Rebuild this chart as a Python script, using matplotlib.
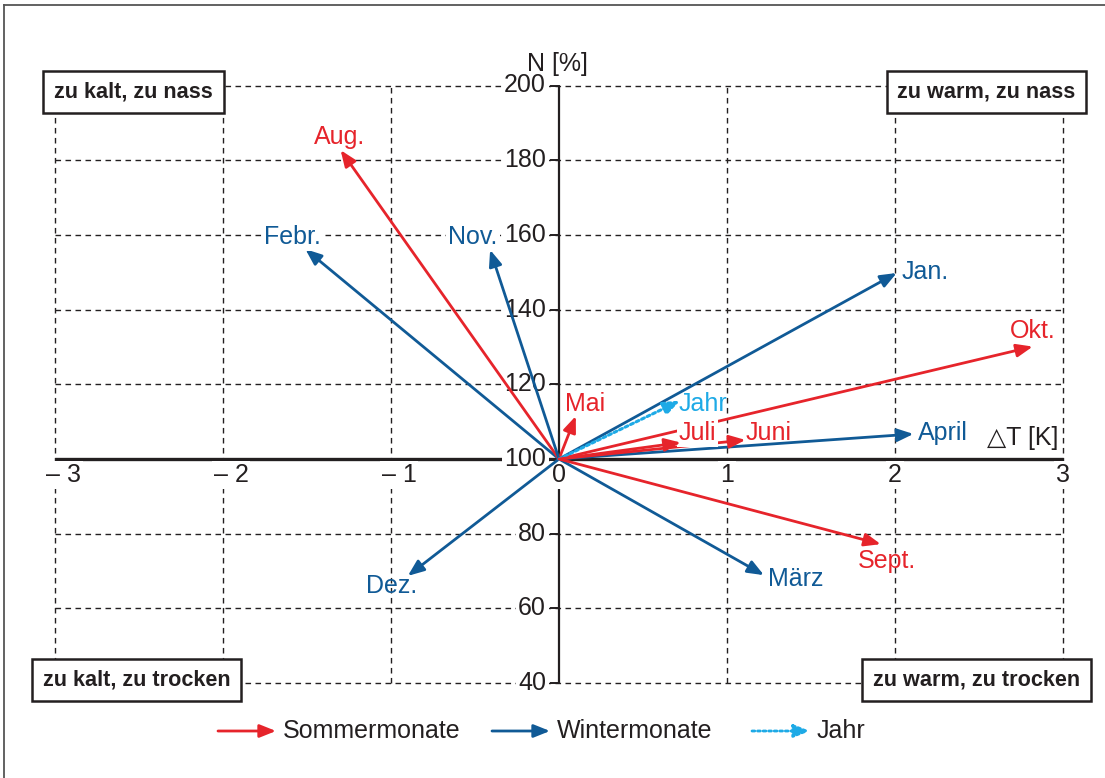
import matplotlib
matplotlib.use('Agg')
import matplotlib.pyplot as plt
from matplotlib.patches import FancyArrowPatch
from matplotlib.lines import Line2D

# Monatliche Abweichungen: Temperatur (K) und Niederschlag (% vom Mittel)
months = ["Jan.", "Febr.", "März", "April", "Mai", "Juni",
          "Juli", "Aug.", "Sept.", "Okt.", "Nov.", "Dez."]
delta_t = [2.01, -1.51, 1.22, 2.11, 0.10, 1.11, 0.725, -1.30, 1.915, 2.82, -0.41, -0.90]
niederschlag = [149.8, 156.2, 68.9, 106.7, 111.5, 105.1, 104.4, 182.7, 77.2, 130.1, 156.0, 68.7]
saison = ["winter", "winter", "winter", "winter", "sommer", "sommer",
          "sommer", "sommer", "sommer", "sommer", "winter", "winter"]
jahr_dt = 0.72
jahr_n = 115.6

x_ticks = [-3, -2, -1, 0, 1, 2, 3]
x_tick_labels = ["\u2013 3", "\u2013 2", "\u2013 1", "0", "1", "2", "3"]
y_ticks = [40, 60, 80, 100, 120, 140, 160, 180, 200]

RED = "#E6242B"
BLUE = "#105A96"
LIGHT = "#1EAAE6"
INK = "#231F20"
FONT = ["Liberation Sans", "DejaVu Sans"]
NARROW = ["Liberation Sans Narrow", "Liberation Sans"]
FS = 18

# label offsets in pixels (dx, dy, ha)
label_pos = {
    "Jan.": (5, 1, "left"), "Febr.": (-13, 12, "center"), "März": (4, -4, "left"),
    "April": (4, 1, "left"), "Mai": (-11, 12, "left"), "Juni": (0, 7, "left"),
    "Juli": (-2, 10, "left"), "Aug.": (-1, 13, "center"), "Sept.": (6, -17, "center"),
    "Okt.": (0, 16, "center"), "Nov.": (-17, 13, "center"), "Dez.": (-16, -10, "center"),
}
masked_labels = {"Febr.", "Nov.", "Juli"}

W, H = 1105, 778
fig = plt.figure(figsize=(W / 100, H / 100), dpi=100)
ax = fig.add_axes([0, 0, 1, 1])
ax.set_xlim(-3 - 55 / 168, 3 + 42 / 168)
ax.set_ylim(100 - 319 / 3.735, 100 + 459 / 3.735)
ax.axis("off")


def fx(px):
    return px / W


def fy(py):
    return 1 - py / H


white = dict(boxstyle="square,pad=0.08", fc="white", ec="none")

# outer frame (top and left only visible)
fig.add_artist(Line2D([fx(4), 1], [fy(5), fy(5)], color="#555555", lw=1.3))
fig.add_artist(Line2D([fx(4), fx(4)], [fy(5), 0], color="#555555", lw=1.3))

# dashed grid
dash = dict(color=INK, lw=1.0, linestyle=(0, (4, 3.2)), zorder=1)
for x in x_ticks:
    if x != 0:
        ax.plot([x, x], [40, 200], **dash)
for y in y_ticks:
    if y != 100:
        ax.plot([-3, 3], [y, y], **dash)

# axes
ax.plot([-3, 3], [100, 100], color=INK, lw=2.4, zorder=3, solid_capstyle="butt")
ax.plot([0, 0], [40, 200], color=INK, lw=1.6, zorder=3, solid_capstyle="butt")
for y in y_ticks:
    ax.plot([-8 / 168, 0], [y, y], color=INK, lw=1.4, zorder=3)
    ax.annotate(str(y), (0, y), xytext=(-13, 0), textcoords="offset pixels",
                ha="right", va="center", fontsize=FS, color=INK, family=FONT, zorder=4,
                bbox=dict(boxstyle="square,pad=0.1", fc="white", ec="none"))
for x, lab in zip(x_ticks, x_tick_labels):
    off = 8 if x < 0 else 0
    ax.annotate(lab, (x, 100), xytext=(off, -16), textcoords="offset pixels",
                ha="center", va="center", fontsize=FS, color=INK, family=FONT, zorder=4,
                bbox=white)

fig.text(fx(527), fy(64), "N [%]", ha="left", va="center", fontsize=FS, color=INK, family=FONT)
fig.text(fx(1058), fy(438), "\u25b3T [K]", ha="right", va="center", fontsize=FS,
         color=INK, family=FONT)


def arrow(p0, p1, color, ls="-", lw=2.0, transform=None, z=5):
    kw = dict(arrowstyle="-|>,head_length=0.65,head_width=0.26", mutation_scale=15,
              color=color, lw=lw, linestyle=ls, shrinkA=0, shrinkB=0, zorder=z)
    if transform is not None:
        kw["transform"] = transform
    a = FancyArrowPatch(p0, p1, **kw)
    if transform is None:
        ax.add_patch(a)
    else:
        fig.add_artist(a)


for m, dt, n, s in zip(months, delta_t, niederschlag, saison):
    c = RED if s == "sommer" else BLUE
    arrow((0, 100), (dt, n), c, z=7 if m == "Juli" else 5)
    dx, dy, ha = label_pos[m]
    ax.annotate(m, (dt, n), xytext=(dx, dy), textcoords="offset pixels", ha=ha, va="center",
                fontsize=FS, color=c, family=FONT, zorder=6,
                bbox=white if m in masked_labels else None)

arrow((0, 100), (jahr_dt, jahr_n), LIGHT, ls=(0, (1, 1)), lw=2.2)
ax.annotate("Jahr", (jahr_dt, jahr_n), xytext=(-1, -3), textcoords="offset pixels",
            ha="left", va="center", fontsize=FS, color=LIGHT, family=FONT, zorder=6)

# quadrant boxes
box = dict(boxstyle="square,pad=0.5", fc="white", ec=INK, lw=1.8)
for (cx, cy), txt in [((133.5, 92), "zu kalt, zu nass"), ((986.5, 92), "zu warm, zu nass"),
                      ((136.5, 680), "zu kalt, zu trocken"), ((976.5, 680), "zu warm, zu trocken")]:
    fig.text(fx(cx), fy(cy), txt, ha="center", va="center", fontsize=15.6, fontweight="bold",
             color=INK, family=NARROW, bbox=box, zorder=7)

# legend
legend_items = [("Sommermonate", RED, "-", 218), ("Wintermonate", BLUE, "-", 492),
                ("Jahr", LIGHT, (0, (1, 1)), 752)]
for txt, c, ls, x0 in legend_items:
    arrow((fx(x0), fy(731)), (fx(x0 + 58), fy(731)), c, ls=ls, transform=fig.transFigure)
    fig.text(fx(x0 + 65), fy(731), txt, ha="left", va="center", fontsize=FS,
             color=INK, family=FONT)

fig.savefig("out.png", dpi=100)
